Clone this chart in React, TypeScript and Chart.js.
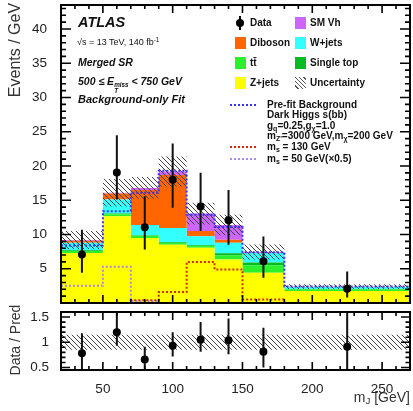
import React, { useEffect, useRef } from 'react';
import { Chart, registerables } from 'chart.js';

Chart.register(...registerables);

// ---- data (m_J bins, events / GeV) ----
const binEdges = [20, 50, 70, 90, 110, 130, 150, 180, 270];

const zJets = [7.3, 12.65, 9.5, 8.5, 8.05, 6.35, 4.4, 1.75];
const ttbar = [0.3, 0.3, 0.3, 0.3, 0.3, 0.6, 1.1, 0.25];
const singleTop = [0.1, 0.1, 0.1, 0.1, 0.1, 0.3, 0.4, 0.05];
const wJets = [1.1, 2.05, 1.5, 2.05, 1.3, 1.55, 1.4, 0.3];
const diboson = [0.3, 0.9, 5.1, 7.75, 0.75, 0.45, 0.05, 0.02];
const smVh = [0.1, 0.1, 0.3, 0.5, 2.55, 2.15, 0.1, 0.01];
const bkgUnc = [1.3, 2.0, 1.6, 2.2, 1.6, 1.5, 1.1, 0.35];

const prefitBkg = [8.4, 13.4, 16.1, 19.3, 12.9, 11.1, 7.4, 2.4];
const sigMs130 = [0, 0, 0.4, 1.6, 6.0, 4.9, 0.5, 0];
const sigMs50 = [2.5, 5.3, 0.3, 0, 0, 0, 0, 0];

const dataVal = [7.07, 19.05, 11.05, 18.0, 14.1, 12.07, 6.1, 2.08];
const dataHi = [10.7, 24.5, 15.6, 23.3, 19.0, 16.5, 9.7, 4.6];
const dataLo = [4.4, 15.1, 7.8, 13.9, 10.5, 8.5, 3.7, 0.8];

const ratioVal = [0.78, 1.2, 0.66, 0.93, 1.05, 1.04, 0.81, 0.91];
const ratioHi = [1.18, 1.7, 0.91, 1.2, 1.4, 1.47, 1.29, 1.7];
const ratioLo = [0.4, 0.93, 0.4, 0.72, 0.81, 0.76, 0.5, 0.4];
const ratioUnc = [0.15, 0.15, 0.15, 0.15, 0.15, 0.15, 0.15, 0.15];

const mainYTicks = [5, 10, 15, 20, 25, 30, 35, 40];
const ratioYTicks = [0.5, 1, 1.5];
const xTickLabels = [50, 100, 150, 200, 250];

// ---- colours ----
const C_Z = '#FFFF00';
const C_TT = '#2BF02B';
const C_ST = '#00BB22';
const C_W = '#33FFFF';
const C_VV = '#FF6600';
const C_VH = '#CC66FF';
const C_PRE = '#3333FF';
const C_S130 = '#D42A00';
const C_S50 = '#A98BE8';

const FONT = '"Liberation Sans", Arial, Helvetica, sans-serif';

Chart.defaults.font.family = FONT;
Chart.defaults.color = '#222';

// histogram helpers
const step = (vals: number[]) =>
  vals
    .map((v, i) => ({ x: binEdges[i], y: v }))
    .concat([{ x: binEdges[binEdges.length - 1], y: vals[vals.length - 1] }]);

const centers = binEdges.slice(0, -1).map((e, i) => (e + binEdges[i + 1]) / 2);

const errSegs = (lo: number[], hi: number[]) =>
  centers.flatMap((c, i) => [
    { x: c, y: lo[i] },
    { x: c, y: hi[i] },
    { x: c, y: null as any },
  ]);

const stacks = [zJets, ttbar, singleTop, wJets, diboson, smVh];
const totalBkg = zJets.map((_, i) => stacks.reduce((s, a) => s + a[i], 0));

function makeHatch(ctx: CanvasRenderingContext2D, color: string, size: number) {
  const c = document.createElement('canvas');
  c.width = size;
  c.height = size;
  const g = c.getContext('2d')!;
  g.strokeStyle = color;
  g.lineWidth = 1;
  g.beginPath();
  g.moveTo(-1, -1);
  g.lineTo(size + 1, size + 1);
  g.moveTo(-1, size - 1);
  g.lineTo(1, size + 1);
  g.moveTo(size - 1, -1);
  g.lineTo(size + 1, 1);
  g.stroke();
  return ctx.createPattern(c, 'repeat')!;
}

type TickOpts = {
  xMinor: number; xMajor: number; xMajorLen: number; xMinorLen: number;
  yMinor: number; yMajor: number; yMajorLen: number; yMinorLen: number;
};

// frame with inward ticks on all four sides
const makeFrameTicks = (o: TickOpts) => ({
  id: 'frameTicks',
  afterDraw(chart: any) {
    const { ctx, chartArea: a, scales } = chart;
    const xs = scales.x;
    const ys = scales.y;
    ctx.save();
    ctx.setLineDash([]);
    ctx.strokeStyle = '#000';
    ctx.lineWidth = 1.6;
    const each = (min: number, max: number, minor: number, major: number, fn: (v: number, m: boolean) => void) => {
      const k0 = Math.ceil(min / minor - 1e-9);
      const k1 = Math.floor(max / minor + 1e-9);
      for (let k = k0; k <= k1; k++) {
        const v = k * minor;
        const r = v / major;
        fn(v, Math.abs(r - Math.round(r)) < 1e-6);
      }
    };
    ctx.beginPath();
    each(xs.min, xs.max, o.xMinor, o.xMajor, (v, m) => {
      const px = xs.getPixelForValue(v);
      const L = m ? o.xMajorLen : o.xMinorLen;
      ctx.moveTo(px, a.bottom);
      ctx.lineTo(px, a.bottom - L);
      ctx.moveTo(px, a.top);
      ctx.lineTo(px, a.top + L);
    });
    each(ys.min, ys.max, o.yMinor, o.yMajor, (v, m) => {
      const py = ys.getPixelForValue(v);
      const L = m ? o.yMajorLen : o.yMinorLen;
      ctx.moveTo(a.left, py);
      ctx.lineTo(a.left + L, py);
      ctx.moveTo(a.right, py);
      ctx.lineTo(a.right - L, py);
    });
    ctx.stroke();
    ctx.lineWidth = 2;
    ctx.strokeRect(a.left, a.top, a.right - a.left, a.bottom - a.top);
    ctx.restore();
  },
});

const T = ({ x, y, size, children, bold, italic, color, align }: any) => (
  <div
    style={{
      position: 'absolute',
      left: align === 'right' ? undefined : x,
      right: align === 'right' ? 413 - x : undefined,
      top: y - size * 0.6,
      fontSize: size,
      lineHeight: `${size * 1.2}px`,
      fontWeight: bold ? 'bold' : 'normal',
      fontStyle: italic ? 'italic' : 'normal',
      color: color || '#111',
      whiteSpace: 'nowrap',
      fontFamily: FONT,
    }}
  >
    {children}
  </div>
);

// rotated axis title centred on (cx, cy)
const VTitle = ({ cx, cy, size, children }: any) => (
  <div
    style={{
      position: 'absolute',
      left: cx,
      top: cy,
      transform: 'translate(-50%, -50%) rotate(-90deg)',
      fontSize: size,
      lineHeight: `${size * 1.2}px`,
      color: '#333',
      whiteSpace: 'nowrap',
      fontFamily: FONT,
    }}
  >
    {children}
  </div>
);

const Box = ({ x, y, color, hatch }: any) => (
  <div
    style={{
      position: 'absolute',
      left: x,
      top: y - 6,
      width: 11,
      height: 12,
      background: hatch
        ? 'repeating-linear-gradient(45deg, #fff 0px, #fff 2px, #555 2px, #555 3px)'
        : color,
    }}
  />
);

const DotLine = ({ x, y, color }: any) => (
  <div
    style={{
      position: 'absolute',
      left: x,
      top: y - 1,
      width: 26,
      height: 2,
      background: `repeating-linear-gradient(90deg, ${color} 0px, ${color} 2px, transparent 2px, transparent 4px)`,
    }}
  />
);

const sub = (t: string) => <sub style={{ fontSize: '0.7em', verticalAlign: '-0.25em', lineHeight: 0 }}>{t}</sub>;

const noPad = (s: any) => {
  s.paddingTop = 0;
  s.paddingBottom = 0;
  s.paddingLeft = 0;
  s.paddingRight = 0;
};

export default function App() {
  const mainRef = useRef<HTMLCanvasElement>(null);
  const ratioRef = useRef<HTMLCanvasElement>(null);

  useEffect(() => {
    const mctx = mainRef.current!.getContext('2d')!;
    const rctx = ratioRef.current!.getContext('2d')!;
    const hatchMain = makeHatch(mctx, '#444', 5);
    const hatchRatio = makeHatch(rctx, '#444', 5);

    const stackDs = (label: string, vals: number[], color: string, first: boolean) => ({
      label,
      data: step(vals),
      yAxisID: 'y',
      stepped: 'before',
      fill: first ? 'origin' : '-1',
      backgroundColor: color,
      borderColor: color,
      borderWidth: 0,
      pointRadius: 0,
      order: 10,
    });
    const lineDs = (label: string, vals: number[], color: string) => ({
      label,
      data: step(vals),
      yAxisID: 'y2',
      stepped: 'before',
      fill: false,
      borderColor: color,
      borderWidth: 2,
      borderDash: [2, 2],
      pointRadius: 0,
      order: 3,
    });

    const main = new Chart(mainRef.current!, {
      type: 'line',
      data: {
        datasets: [
          stackDs('Z+jets', zJets, C_Z, true),
          stackDs('tt', ttbar, C_TT, false),
          stackDs('Single top', singleTop, C_ST, false),
          stackDs('W+jets', wJets, C_W, false),
          stackDs('Diboson', diboson, C_VV, false),
          stackDs('SM Vh', smVh, C_VH, false),
          {
            label: 'unc-lo',
            data: step(totalBkg.map((t, i) => t - bkgUnc[i])),
            yAxisID: 'y2',
            stepped: 'before',
            fill: false,
            borderWidth: 0,
            pointRadius: 0,
            order: 5,
          },
          {
            label: 'Uncertainty',
            data: step(totalBkg.map((t, i) => t + bkgUnc[i])),
            yAxisID: 'y2',
            stepped: 'before',
            fill: '-1',
            backgroundColor: hatchMain,
            borderWidth: 0,
            pointRadius: 0,
            order: 5,
          },
          lineDs('Pre-fit Background', prefitBkg, C_PRE),
          lineDs('m_s = 130 GeV', sigMs130, C_S130),
          lineDs('m_s = 50 GeV', sigMs50, C_S50),
          {
            label: 'data-err',
            data: errSegs(dataLo, dataHi),
            yAxisID: 'y2',
            borderColor: '#111',
            borderWidth: 2,
            pointRadius: 0,
            fill: false,
            spanGaps: false,
            order: 1,
          },
          {
            label: 'Data',
            data: dataVal.map((v, i) => ({ x: centers[i], y: v })),
            yAxisID: 'y2',
            showLine: false,
            pointRadius: 4,
            pointBackgroundColor: '#000',
            pointBorderWidth: 0,
            order: 0,
          },
        ] as any,
      },
      options: {
        responsive: false,
        animation: false,
        devicePixelRatio: 1,
        events: [],
        layout: { autoPadding: false, padding: { left: 0, right: 3, top: 5, bottom: 0 } },
        plugins: {
          legend: { display: false },
          tooltip: { enabled: false },
        },
        scales: {
          x: {
            type: 'linear',
            min: 20,
            max: 270,
            grid: { display: false },
            border: { display: false },
            ticks: { display: false },
            afterFit: (s: any) => { s.height = 5; noPad(s); },
          },
          y: {
            type: 'linear',
            stacked: true,
            min: 0,
            max: 43.5,
            grid: { display: false },
            border: { display: false },
            afterBuildTicks: (s: any) => { s.ticks = mainYTicks.map((v) => ({ value: v })); },
            ticks: { autoSkip: false, padding: 6, font: { size: 13.5 }, color: '#222', callback: (v: any) => String(v) },
            afterFit: (s: any) => { s.width = 61; noPad(s); },
          },
          y2: { type: 'linear', min: 0, max: 43.5, display: false },
        } as any,
      },
      plugins: [
        makeFrameTicks({
          xMinor: 10, xMajor: 50, xMajorLen: 8, xMinorLen: 4,
          yMinor: 1, yMajor: 5, yMajorLen: 10, yMinorLen: 5,
        }),
      ],
    });

    const ratio = new Chart(ratioRef.current!, {
      type: 'line',
      data: {
        datasets: [
          {
            label: 'r-lo',
            data: step(ratioUnc.map((u) => 1 - u)),
            stepped: 'before',
            fill: false,
            borderWidth: 0,
            pointRadius: 0,
            order: 5,
          },
          {
            label: 'r-hi',
            data: step(ratioUnc.map((u) => 1 + u)),
            stepped: 'before',
            fill: '-1',
            backgroundColor: hatchRatio,
            borderWidth: 0,
            pointRadius: 0,
            order: 5,
          },
          {
            label: 'r-err',
            data: errSegs(ratioLo, ratioHi),
            borderColor: '#111',
            borderWidth: 2,
            pointRadius: 0,
            fill: false,
            spanGaps: false,
            order: 1,
          },
          {
            label: 'Data / Pred',
            data: ratioVal.map((v, i) => ({ x: centers[i], y: v })),
            showLine: false,
            pointRadius: 4,
            pointBackgroundColor: '#000',
            pointBorderWidth: 0,
            order: 0,
          },
        ] as any,
      },
      options: {
        responsive: false,
        animation: false,
        devicePixelRatio: 1,
        events: [],
        layout: { autoPadding: false, padding: { left: 0, right: 3, top: 4, bottom: 0 } },
        plugins: {
          legend: { display: false },
          tooltip: { enabled: false },
        },
        scales: {
          x: {
            type: 'linear',
            min: 20,
            max: 270,
            grid: { display: false },
            border: { display: false },
            afterBuildTicks: (s: any) => { s.ticks = xTickLabels.map((v) => ({ value: v })); },
            ticks: { autoSkip: false, maxRotation: 0, padding: 3, font: { size: 13.5 }, color: '#222', callback: (v: any) => String(v) },
            afterFit: (s: any) => { s.height = 41; noPad(s); },
          },
          y: {
            type: 'linear',
            min: 0.45,
            max: 1.6,
            grid: { display: false },
            border: { display: false },
            afterBuildTicks: (s: any) => { s.ticks = ratioYTicks.map((v) => ({ value: v })); },
            ticks: { autoSkip: false, padding: 4, font: { size: 13.5 }, color: '#222', callback: (v: any) => String(v) },
            afterFit: (s: any) => { s.width = 61; noPad(s); },
          },
        } as any,
      },
      plugins: [
        makeFrameTicks({
          xMinor: 10, xMajor: 50, xMajorLen: 8, xMinorLen: 4,
          yMinor: 0.1, yMajor: 0.5, yMajorLen: 9, yMinorLen: 4.5,
        }),
      ],
    });

    return () => {
      main.destroy();
      ratio.destroy();
    };
  }, []);

  return (
    <div style={{ position: 'absolute', left: 0, top: 0, width: 413, height: 411, background: '#fff', overflow: 'hidden' }}>
      <canvas ref={mainRef} width={413} height={308} style={{ position: 'absolute', left: 0, top: 0, width: 413, height: 308 }} />
      <canvas ref={ratioRef} width={413} height={103} style={{ position: 'absolute', left: 0, top: 308, width: 413, height: 103 }} />

      {/* axis titles */}
      <VTitle cx={15} cy={50} size={16}>Events / GeV</VTitle>
      <VTitle cx={15} cy={340} size={14}>Data / Pred</VTitle>
      <T x={410} y={397} size={14} align="right" color="#333">
        m{sub('J')} [GeV]
      </T>

      {/* experiment label */}
      <T x={78} y={23} size={14.5} bold italic>ATLAS</T>
      <T x={77} y={42.5} size={9}>
        √s = 13 TeV, 140 fb<sup style={{ fontSize: '0.7em', verticalAlign: '0.45em', lineHeight: 0 }}>-1</sup>
      </T>
      <T x={78} y={62.5} size={10.5} bold italic>Merged SR</T>
      <T x={78} y={81} size={10.5} bold italic>
        500 ≤ E
        <span style={{ display: 'inline-flex', flexDirection: 'column', fontSize: '0.6em', lineHeight: '0.95em', verticalAlign: '-0.35em' }}>
          <span>miss</span>
          <span>T</span>
        </span>
        {' '}&lt; 750 GeV
      </T>
      <T x={78} y={100} size={11} bold italic>Background-only Fit</T>

      {/* legend: filled entries */}
      <div style={{ position: 'absolute', left: 239, top: 16, width: 2, height: 14, background: '#000' }} />
      <div style={{ position: 'absolute', left: 236, top: 19, width: 8, height: 8, borderRadius: 4, background: '#000' }} />
      <T x={250} y={23} size={10} bold>Data</T>
      <Box x={295} y={23} color={C_VH} />
      <T x={310} y={23} size={10} bold>SM Vh</T>
      <Box x={235} y={43} color={C_VV} />
      <T x={250} y={43} size={10} bold>Diboson</T>
      <Box x={295} y={43} color={C_W} />
      <T x={310} y={43} size={10} bold>W+jets</T>
      <Box x={235} y={62.5} color={C_TT} />
      <T x={250} y={62.5} size={10} bold>tt̄</T>
      <Box x={295} y={62.5} color={C_ST} />
      <T x={310} y={62.5} size={10} bold>Single top</T>
      <Box x={235} y={83} color={C_Z} />
      <T x={250} y={83} size={10} bold>Z+jets</T>
      <Box x={295} y={83} hatch />
      <T x={310} y={83} size={10} bold>Uncertainty</T>

      {/* legend: line entries */}
      <DotLine x={230} y={104.7} color={C_PRE} />
      <T x={267} y={104.7} size={10} bold>Pre-fit Background</T>
      <T x={267} y={115.3} size={10} bold>Dark Higgs s(bb)</T>
      <T x={267} y={125.6} size={10} bold>g{sub('q')}=0.25,g{sub('χ')}=1.0</T>
      <T x={267} y={136.3} size={10} bold>m{sub("Z'")}=3000 GeV,m{sub('χ')}=200 GeV</T>
      <DotLine x={230} y={147} color={C_S130} />
      <T x={267} y={147} size={10} bold>m{sub('s')} = 130 GeV</T>
      <DotLine x={230} y={158.7} color={C_S50} />
      <T x={267} y={158.7} size={10} bold>m{sub('s')} = 50 GeV(×0.5)</T>
    </div>
  );
}
